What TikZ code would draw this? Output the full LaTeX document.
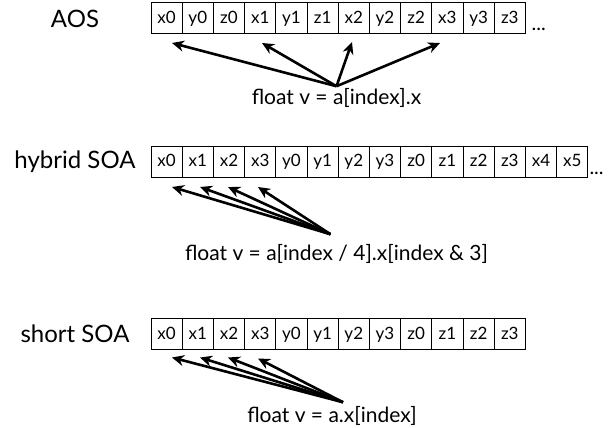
\documentclass[tikz,border=0pt]{standalone}
\usepackage{fontspec}
\setmainfont{Lato}
\usetikzlibrary{positioning,arrows.meta}

\begin{document}
\begin{tikzpicture}[
    x=1pt, y=-1pt,
    cell/.style={rectangle, draw, line width=1pt, minimum width=31.2pt, minimum height=31pt, inner sep=0pt, outer sep=0pt, text height=12pt, text depth=2pt, font=\fontsize{17}{17}\selectfont},
    rowlabel/.style={font=\fontsize{24}{24}\selectfont},
    expr/.style={inner sep=0pt, font=\fontsize{21}{21}\selectfont},
    more/.style={inner sep=0pt, font=\fontsize{20}{20}\selectfont},
    arrow/.style={-{Stealth[length=12pt,width=11pt]}, line width=2.6pt}
]
    \useasboundingbox (0,0) rectangle (613,428);

    % AOS
    \node[rowlabel] (aos) at (75,18.5) {AOS};
    \foreach \lab [count=\i] in {x0,y0,z0,x1,y1,z1,x2,y2,z2,x3,y3,z3}
        \node[cell] (a\i) at ({151+(\i-0.5)*31.2},18.5) {\lab};
    \node[more, anchor=base west] (aosdots) at ([xshift=6pt,yshift=3pt]a12.south east) {...};
    \node[expr] (aosv) at (336.5,98) {float v = a[index].x};
    \draw[arrow] ([yshift=2pt]aosv.north) -- ([xshift=5.4pt,yshift=-9pt]a1.south);
    \draw[arrow] ([yshift=2pt]aosv.north) -- ([xshift=1.8pt,yshift=-9pt]a4.south);
    \draw[arrow] ([yshift=2pt]aosv.north) -- ([xshift=-1.8pt,yshift=-8pt]a7.south);
    \draw[arrow] ([yshift=2pt]aosv.north) -- ([xshift=-7.4pt,yshift=-9pt]a10.south);

    % hybrid SOA
    \node[rowlabel] (hyb) at (75,161.5) {hybrid SOA};
    \foreach \lab [count=\i] in {x0,x1,x2,x3,y0,y1,y2,y3,z0,z1,z2,z3,x4,x5}
        \node[cell] (h\i) at ({151+(\i-0.5)*31.2},161.5) {\lab};
    \node[more, anchor=base west] (hybdots) at ([xshift=1.5pt,yshift=3pt]h14.south east) {...};
    \node[expr] (hybv) at (336.5,254) {float v = a[index / 4].x[index \& 3]};
    \draw[arrow] ([xshift=-6pt,yshift=10pt]hybv.north) -- ([xshift=5.4pt,yshift=-10pt]h1.south);
    \draw[arrow] ([xshift=-6pt,yshift=10pt]hybv.north) -- ([xshift=2.2pt,yshift=-10pt]h2.south);
    \draw[arrow] ([xshift=-6pt,yshift=10pt]hybv.north) -- ([xshift=-1pt,yshift=-10pt]h3.south);
    \draw[arrow] ([xshift=-6pt,yshift=10pt]hybv.north) -- ([xshift=-2.2pt,yshift=-10pt]h4.south);

    % short SOA
    \node[rowlabel] (sho) at (75,334) {short SOA};
    \foreach \lab [count=\i] in {x0,x1,x2,x3,y0,y1,y2,y3,z0,z1,z2,z3}
        \node[cell] (s\i) at ({151+(\i-0.5)*31.2},334) {\lab};
    \node[expr] (shov) at (332,416) {float v = a.x[index]};
    \draw[arrow] ([xshift=11pt,yshift=4pt]shov.north) -- ([xshift=5.4pt,yshift=-8pt]s1.south);
    \draw[arrow] ([xshift=11pt,yshift=4pt]shov.north) -- ([xshift=2.2pt,yshift=-8pt]s2.south);
    \draw[arrow] ([xshift=11pt,yshift=4pt]shov.north) -- ([xshift=-1pt,yshift=-8pt]s3.south);
    \draw[arrow] ([xshift=11pt,yshift=4pt]shov.north) -- ([xshift=-2.2pt,yshift=-9pt]s4.south);
\end{tikzpicture}
\end{document}
